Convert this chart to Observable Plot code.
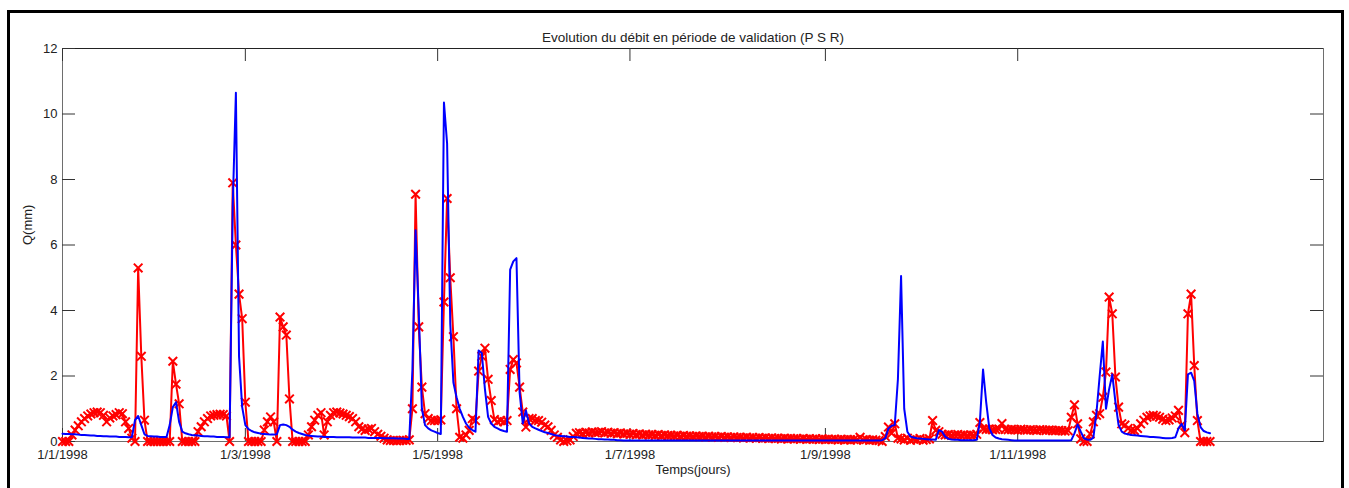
<!DOCTYPE html>
<html>
<head>
<meta charset="utf-8">
<script src="https://cdn.jsdelivr.net/npm/d3@7"></script>
<script src="https://cdn.jsdelivr.net/npm/@observablehq/plot@0.6"></script>
<style>
  html, body { margin: 0; padding: 0; background: #fff; }
  #wrap { position: relative; width: 1349px; height: 488px; overflow: hidden; background: #fff; }
  #chart svg { display: block; }
  #border { position: absolute; left: 7px; top: 10px; width: 1331px; height: 600px; border: 3px solid #000; pointer-events: none; }
</style>
</head>
<body>
<div id="wrap"><div id="chart"></div><div id="border"></div></div>
<script>
// Title and axis texts
const title = "Evolution du débit en période de validation (P S R)";
const xLabel = "Temps(jours)";
const yLabel = "Q(mm)";

// Tick positions (day index) and labels
const xTickPos = [0, 58, 119, 180, 242, 303];
const xTickLabels = ["1/1/1998", "1/3/1998", "1/5/1998", "1/7/1998", "1/9/1998", "1/11/1998"];
const yTicks = [0, 2, 4, 6, 8, 10, 12];

// Observed discharge (red, x markers), one value per day
const observed = [
  0, 0, 0, 0.2, 0.35, 0.48, 0.6, 0.7, 0.78, 0.84,
  0.88, 0.9, 0.88, 0.8, 0.6, 0.72, 0.78, 0.82, 0.88, 0.85,
  0.6, 0.4, 0.1, 0, 5.3, 2.6, 0.65, 0, 0, 0,
  0, 0, 0, 0, 0, 2.45, 1.75, 1.15, 0, 0,
  0, 0, 0, 0.3, 0.45, 0.6, 0.7, 0.78, 0.8, 0.82,
  0.83, 0.82, 0.78, 0, 7.9, 6.0, 4.5, 3.75, 1.2, 0,
  0, 0, 0, 0, 0.35, 0.6, 0.75, 0.6, 0, 3.8,
  3.5, 3.25, 1.3, 0, 0, 0, 0, 0, 0.2, 0.45,
  0.65, 0.8, 0.88, 0.2, 0.6, 0.8, 0.88, 0.9, 0.87, 0.84,
  0.8, 0.76, 0.7, 0.6, 0.45, 0.38, 0.34, 0.38, 0.4, 0.3,
  0.22, 0.16, 0.1, 0.05, 0.03, 0.03, 0.02, 0.03, 0.04, 0.03,
  0.05, 1.0, 7.55, 3.5, 1.66, 0.85, 0.7, 0.64, 0.64, 0.64,
  0.66, 4.26, 7.42, 5.0, 3.2, 1.0, 0.13, 0.1, 0.2, 0.34,
  0.7, 0.64, 2.15, 2.6, 2.85, 1.9, 1.25, 0.67, 0.6, 0.64,
  0.6, 0.64, 2.2, 2.5, 2.4, 1.66, 0.9, 0.44, 0.7, 0.7,
  0.64, 0.64, 0.59, 0.5, 0.45, 0.34, 0.2, 0.13, 0.05, 0,
  0.02, 0.05, 0.15, 0.25, 0.27, 0.24, 0.28, 0.26, 0.29, 0.27,
  0.28, 0.3, 0.26, 0.28, 0.25, 0.27, 0.24, 0.26, 0.23, 0.25,
  0.22, 0.24, 0.21, 0.23, 0.2, 0.22, 0.2, 0.21, 0.19, 0.21,
  0.18, 0.2, 0.18, 0.19, 0.17, 0.19, 0.16, 0.18, 0.16, 0.17,
  0.15, 0.17, 0.15, 0.16, 0.14, 0.16, 0.14, 0.15, 0.13, 0.15,
  0.13, 0.14, 0.12, 0.14, 0.12, 0.13, 0.11, 0.13, 0.11, 0.12,
  0.1, 0.12, 0.1, 0.11, 0.09, 0.11, 0.09, 0.1, 0.08, 0.1,
  0.08, 0.09, 0.08, 0.09, 0.07, 0.09, 0.07, 0.08, 0.07, 0.08,
  0.06, 0.08, 0.06, 0.07, 0.06, 0.07, 0.05, 0.07, 0.05, 0.06,
  0.05, 0.06, 0.05, 0.13, 0.05, 0.06, 0.04, 0.05, 0.04, 0.03,
  0, 0.15, 0.44, 0.25, 0.54, 0.1, 0.08, 0.05, 0.1, 0.04,
  0.07, 0.05, 0.09, 0.04, 0.06, 0.08, 0.64, 0.34, 0.3, 0.22,
  0.2, 0.21, 0.19, 0.2, 0.21, 0.19, 0.2, 0.18, 0.2, 0.19,
  0.22, 0.58, 0.38, 0.37, 0.38, 0.36, 0.37, 0.38, 0.55, 0.37,
  0.36, 0.37, 0.36, 0.35, 0.37, 0.36, 0.35, 0.36, 0.35, 0.34,
  0.36, 0.35, 0.34, 0.35, 0.34, 0.33, 0.34, 0.33, 0.32, 0.33,
  0.74, 1.12, 0.54, 0.08, 0, 0, 0.23, 0.6, 0.8, 0.85,
  1.35, 2.12, 4.41, 3.9, 1.97, 1.05, 0.54, 0.5, 0.4, 0.34,
  0.34, 0.4, 0.54, 0.65, 0.74, 0.78, 0.8, 0.78, 0.74, 0.68,
  0.64, 0.66, 0.72, 0.78, 0.95, 0.5, 0.27, 3.9, 4.5, 2.32,
  0.64, 0, 0, 0, 0
];

// Simulated discharge (blue line), one value per day
const simulated = [
  0.24, 0.23, 0.23, 0.22, 0.22, 0.21, 0.2, 0.2, 0.19, 0.18,
  0.18, 0.17, 0.17, 0.16, 0.16, 0.15, 0.15, 0.15, 0.14, 0.14,
  0.14, 0.13, 0.13, 0.65, 0.78, 0.5, 0.22, 0.17, 0.16, 0.15,
  0.15, 0.14, 0.14, 0.14, 0.5, 1.05, 1.2, 0.6, 0.3, 0.25,
  0.22, 0.2, 0.19, 0.18, 0.17, 0.16, 0.16, 0.15, 0.15, 0.14,
  0.14, 0.14, 0.13, 0.13, 7.2, 10.65, 2.6, 1.05, 0.5, 0.38,
  0.32, 0.28, 0.26, 0.24, 0.23, 0.22, 0.21, 0.21, 0.22, 0.5,
  0.52, 0.5, 0.45, 0.36, 0.3, 0.26, 0.23, 0.2, 0.18, 0.17,
  0.16, 0.15, 0.15, 0.14, 0.14, 0.14, 0.14, 0.13, 0.13, 0.13,
  0.13, 0.13, 0.12, 0.12, 0.12, 0.12, 0.12, 0.11, 0.11, 0.11,
  0.11, 0.11, 0.1, 0.1, 0.1, 0.1, 0.09, 0.09, 0.09, 0.08,
  0.08, 2.2, 6.45, 4.0, 1.0, 0.5, 0.4, 0.34, 0.3, 0.26,
  0.23, 10.35, 9.1, 3.6, 1.8, 1.35, 1.0, 0.75, 0.55, 0.42,
  0.35, 0.3, 2.78, 2.7, 1.6, 0.75, 0.55, 0.45, 0.4, 0.35,
  0.32, 0.3, 5.25, 5.5, 5.6, 1.5, 0.55, 0.95, 0.55, 0.45,
  0.4, 0.36, 0.32, 0.28, 0.26, 0.23, 0.2, 0.18, 0.17, 0.16,
  0.15, 0.14, 0.14, 0.13, 0.12, 0.11, 0.1, 0.09, 0.09, 0.08,
  0.07, 0.07, 0.06, 0.06, 0.05, 0.05, 0.04, 0.04, 0.03, 0.03,
  0.03, 0.03, 0.03, 0.03, 0.03, 0.03, 0.03, 0.03, 0.03, 0.03,
  0.03, 0.03, 0.03, 0.03, 0.03, 0.03, 0.03, 0.03, 0.03, 0.03,
  0.03, 0.03, 0.03, 0.03, 0.03, 0.03, 0.03, 0.03, 0.03, 0.03,
  0.03, 0.03, 0.03, 0.03, 0.03, 0.03, 0.03, 0.03, 0.03, 0.03,
  0.03, 0.03, 0.03, 0.03, 0.03, 0.03, 0.03, 0.03, 0.03, 0.03,
  0.03, 0.03, 0.03, 0.03, 0.03, 0.03, 0.03, 0.03, 0.03, 0.03,
  0.03, 0.03, 0.03, 0.03, 0.03, 0.03, 0.03, 0.03, 0.03, 0.03,
  0.03, 0.03, 0.03, 0.03, 0.03, 0.03, 0.03, 0.03, 0.03, 0.03,
  0.04, 0.1, 0.4, 0.48, 0.5, 1.9, 5.05, 1.0, 0.3, 0.15,
  0.12, 0.1, 0.09, 0.08, 0.07, 0.06, 0.06, 0.05, 0.35, 0.3,
  0.15, 0.08, 0.06, 0.05, 0.05, 0.04, 0.04, 0.04, 0.04, 0.04,
  0.05, 0.6, 2.2, 1.2, 0.4, 0.2, 0.12, 0.09, 0.07, 0.06,
  0.05, 0.04, 0.03, 0.03, 0.03, 0.03, 0.03, 0.03, 0.03, 0.03,
  0.03, 0.03, 0.03, 0.03, 0.03, 0.03, 0.03, 0.03, 0.03, 0.03,
  0.04, 0.25, 0.52, 0.3, 0.1, 0.06, 0.05, 0.12, 0.9, 2.0,
  3.05, 1.0, 1.6, 2.05, 1.2, 0.5, 0.3, 0.24, 0.22, 0.2,
  0.19, 0.18, 0.17, 0.16, 0.15, 0.14, 0.14, 0.13, 0.12, 0.11,
  0.1, 0.1, 0.11, 0.13, 0.4, 0.54, 0.34, 2.05, 2.1, 1.85,
  0.85, 0.44, 0.32, 0.28, 0.25
];

const rows = observed.map((v, i) => ({day: i, obs: v, sim: simulated[i]}));
const labelByPos = new Map(xTickPos.map((p, i) => [p, xTickLabels[i]]));

const W = 1349, H = 488, ML = 62, MR = 26, MT = 48, MB = 47;
const frameW = W - ML - MR, frameH = H - MT - MB;
const tickLen = 13;
const font = "'Liberation Sans', Arial, Helvetica, sans-serif";

const chart = Plot.plot({
  width: W,
  height: H,
  marginLeft: ML,
  marginRight: MR,
  marginTop: MT,
  marginBottom: MB,
  style: {fontFamily: font, fontSize: "13px", color: "#222", background: "transparent"},
  x: {domain: [0, 400]},
  y: {domain: [0, 12]},
  marks: [
    Plot.frame({stroke: "#6e6e6e"}),
    Plot.ruleY([12], {stroke: "#222"}),
    Plot.tickX(xTickPos, {x: d => d, insetTop: frameH - tickLen, stroke: "#333"}),
    Plot.tickX(xTickPos, {x: d => d, insetBottom: frameH - tickLen, stroke: "#333"}),
    Plot.tickY(yTicks, {y: d => d, insetRight: frameW - tickLen, stroke: "#333"}),
    Plot.tickY(yTicks, {y: d => d, insetLeft: frameW - tickLen, stroke: "#333"}),
    Plot.axisX({ticks: xTickPos, tickFormat: d => labelByPos.get(d), tickSize: 0, tickPadding: 8, fontSize: 13, label: null}),
    Plot.axisY({ticks: yTicks, tickSize: 0, tickPadding: 5, fontSize: 13, label: null}),
    Plot.line(rows, {x: "day", y: "obs", stroke: "#ff0000", strokeWidth: 2}),
    Plot.dot(rows, {x: "day", y: "obs", symbol: "times", r: 4, stroke: "#ff0000", strokeWidth: 2}),
    Plot.line(rows, {x: "day", y: "sim", stroke: "#0000ff", strokeWidth: 2}),
    Plot.text([title], {frameAnchor: "top", dy: -16, fontSize: 13.5, fill: "#222"}),
    Plot.text([xLabel], {frameAnchor: "bottom", dy: 32, fontSize: 13, fill: "#222"}),
    Plot.text([yLabel], {frameAnchor: "left", dx: -35, rotate: -90, fontSize: 13, fill: "#222"})
  ]
});
document.getElementById("chart").appendChild(chart);
</script>
</body>
</html>
